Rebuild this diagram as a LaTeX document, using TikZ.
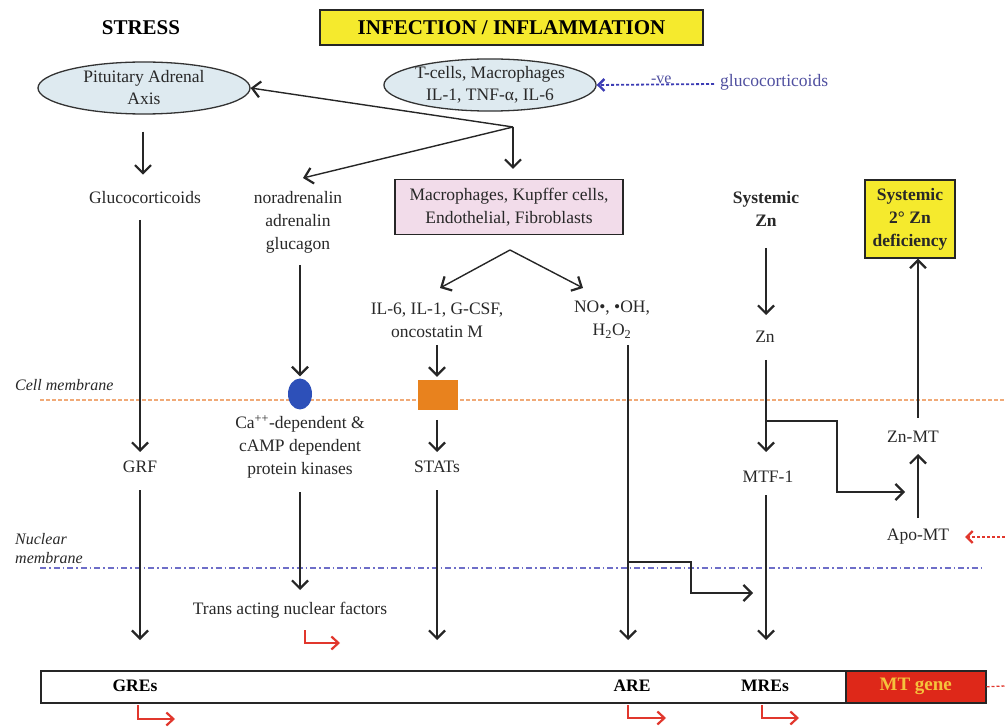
\documentclass[tikz,border=0pt]{standalone}
\usepackage{fontspec}
\setmainfont{Liberation Serif}
\usetikzlibrary{arrows.meta,shapes.geometric}
\definecolor{txt}{RGB}{40,40,40}
\definecolor{ybox}{RGB}{245,234,45}
\definecolor{lblue}{RGB}{222,234,240}
\definecolor{lpink}{RGB}{242,220,234}
\definecolor{negblue}{RGB}{60,60,180}
\definecolor{glutxt}{RGB}{80,80,160}
\definecolor{memor}{RGB}{240,170,120}
\definecolor{nucbl}{RGB}{110,110,200}
\definecolor{redar}{RGB}{225,55,45}
\definecolor{genered}{RGB}{222,40,25}
\definecolor{geneyel}{RGB}{245,195,60}
\definecolor{orbox}{RGB}{232,130,30}
\definecolor{bluedot}{RGB}{45,80,185}
\tikzset{
  lbl/.style={inner sep=0pt, align=center, text=txt, font=\fontsize{17.5}{23}\selectfont},
  hdr/.style={inner sep=0pt, align=center, text=black, font=\fontsize{21}{25}\selectfont\bfseries},
  bhdr/.style={inner sep=0pt, align=center, text=txt, font=\fontsize{17.5}{23}\selectfont\bfseries},
  ital/.style={inner sep=0pt, align=left, text=txt, font=\fontsize{16}{19}\selectfont\itshape, anchor=west},
  ell/.style={ellipse, draw=black!80, line width=1.3pt, fill=lblue, inner sep=0pt, align=center, text=txt, font=\fontsize{17.5}{22}\selectfont},
  arr/.style={draw=black!85, line width=1.4pt, -{Straight Barb[length=8pt,width=16pt,line width=2.2pt]}},
  redarr/.style={draw=redar, line width=1.7pt, -{Straight Barb[length=7pt,width=13pt,line width=2.2pt]}},
  dasharr/.style={line width=1.8pt, dash pattern=on 3pt off 2pt, -{Straight Barb[length=6pt,width=12pt,line width=2.4pt]}},
}
\begin{document}
\begin{tikzpicture}[x=1pt,y=-1pt]
\useasboundingbox (0,0) rectangle (1005,727);
% membranes
\draw[memor, line width=1.5pt, dash pattern=on 4pt off 2pt] (40,400) -- (1005,400);
\draw[nucbl, line width=1.5pt, dash pattern=on 6pt off 3pt on 1.5pt off 3pt] (40,568) -- (985,568);
\node[ital] (cellm) at (15,385) {Cell membrane};
\node[ital] (nucm) at (15,549) {Nuclear\\membrane};

% top
\node[hdr] (stress) at (141,28) {STRESS};
\node[hdr, draw=black!85, line width=1.3pt, fill=ybox, minimum width=383pt, minimum height=35pt] (infl) at (511.5,27.5) {INFECTION / INFLAMMATION};
\node[ell, minimum width=212pt, minimum height=52pt] (pit) at (144,88) {Pituitary Adrenal\\Axis};
\node[ell, minimum width=196pt, minimum height=52pt] (tcell) at (490,85) {T-cells, Macrophages\\IL-1, TNF-α, IL-6};
\node[inner sep=0pt, text=glutxt, font=\fontsize{17.5}{21}\selectfont, anchor=west] (gcext) at (720,82) {glucocorticoids};
\coordinate (negst) at (714,84);
\draw[negblue, dasharr] (negst) -- (tcell.east) node[pos=0.45, above=-3pt, font=\fontsize{16}{18}\selectfont, text=glutxt] {-ve};

% junction
\coordinate (j) at (513,127);
\node[lbl] (gluc) at (145,198) {Glucocorticoids};
\node[lbl] (nor) at (298,222) {noradrenalin\\adrenalin\\glucagon};
\node[lbl, draw=black!85, line width=1.2pt, fill=lpink, minimum width=228pt, minimum height=55pt] (mac) at (509,207) {Macrophages, Kupffer cells,\\Endothelial, Fibroblasts};
\coordinate (norin) at (303,178);
\draw[arr] (j) -- (pit.east);
\draw[arr] (j) -- (norin);
\draw[arr] (j) -- ([yshift=10pt]j |- mac.north);
\draw[arr] ([yshift=-17pt]pit.south -| 143,0) -- ([yshift=17pt]gluc.north -| 143,0);

\node[bhdr] (szn) at (766,209) {Systemic\\Zn};
\node[bhdr, draw=black!85, line width=1.3pt, fill=ybox, minimum width=90pt, minimum height=78pt] (def) at (910,219) {Systemic\\2° Zn\\deficiency};

% branch from macrophages
\coordinate (mb) at (510,250);
\node[lbl] (il6) at (437,320) {IL-6, IL-1, G-CSF,\\oncostatin M};
\node[lbl] (no) at (612,320) {NO•, •OH,\\H\textsubscript{2}O\textsubscript{2}};
\coordinate (il6in) at (440,288);
\coordinate (noin) at (583,288);
\draw[arr] (mb) -- (il6in);
\draw[arr] (mb) -- (noin);

% column 1
\node[lbl] (grf) at (140,467) {GRF};
\draw[arr] (140,220) -- (140,452);
\draw[arr] (140,490) -- (140,640);

% column 2
\node[ellipse, fill=bluedot, minimum width=24pt, minimum height=31pt, inner sep=0pt] (bdot) at (300,394) {};
\node[lbl] (ca) at (300,447) {Ca\textsuperscript{++}-dependent \&\\cAMP dependent\\protein kinases};
\node[lbl] (trans) at (290,610) {Trans acting nuclear factors};
\draw[arr] (300,265) -- ([yshift=2pt]bdot.north);
\draw[arr] (300,492) -- (300,590);
\draw[redarr] (305,630) -- (305,643) -- (340,643);

% column 3
\node[fill=orbox, minimum width=40pt, minimum height=30pt, inner sep=0pt] (orect) at (438,395) {};
\node[lbl] (stats) at (437,467) {STATs};
\draw[arr] (437,345) -- ([yshift=3pt]orect.north -| 437,0);
\draw[arr] (437,420) -- (437,452);
\draw[arr] (437,490) -- (437,640);

% column 4
\draw[arr] (628,345) -- (628,640);
\draw[arr] (628,562) -- (691,562) -- (691,593) -- (753,593);

% column 5
\node[lbl] (zn) at (765,337) {Zn};
\node[lbl] (mtf) at (768,477) {MTF-1};
\draw[arr] (766,248) -- (766,315);
\draw[arr] (766,360) -- (766,452);
\draw[arr] (766,421) -- (837,421) -- (837,492) -- (905,492);
\draw[arr] (766,495) -- (766,640);

% column 6
\node[lbl] (znmt) at (913,437) {Zn-MT};
\node[lbl] (apo) at (918,537) {Apo-MT};
\draw[arr] (918,418) -- (def.south -| 918,0);
\draw[arr] (918,518) -- (918,454);
\coordinate (rdin) at (1005,537);
\draw[redar, dasharr] (rdin) -- (965,537);

% gene bar
\node[draw=black!85, line width=1.5pt, fill=white, minimum width=805pt, minimum height=32pt, inner sep=0pt, anchor=north west] (bar) at (40,670) {};
\node[draw=black!85, line width=1.5pt, fill=genered, minimum width=140pt, minimum height=32pt, inner sep=0pt, anchor=north west, text=geneyel, font=\fontsize{19}{22}\selectfont\bfseries] (gene) at (845,670) {MT gene};
\node[bhdr, text=black] (gres) at (135,686) {GREs};
\node[bhdr, text=black] (are) at (632,686) {ARE};
\node[bhdr, text=black] (mres) at (765,686) {MREs};
\coordinate (gout) at (1005,686);
\draw[redar, line width=1.3pt, dash pattern=on 3pt off 2pt] (gene.east) -- (gout);
\draw[redarr] (138,705) -- (138,719) -- (175,719);
\draw[redarr] (628,705) -- (628,718) -- (666,718);
\draw[redarr] (762,705) -- (762,718) -- (799,718);
\end{tikzpicture}
\end{document}
